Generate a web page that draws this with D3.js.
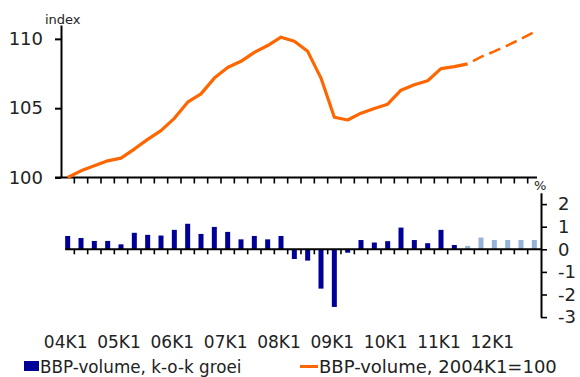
<!DOCTYPE html>
<html>
<head>
<meta charset="utf-8">
<script src="https://cdn.jsdelivr.net/npm/d3@7"></script>
<style>
  html, body { margin: 0; padding: 0; background: #fff; }
  svg { display: block; font-family: "DejaVu Sans", Verdana, sans-serif; }
</style>
</head>
<body>
<svg id="chart" width="580" height="377"></svg>
<script>
// ---- data ----
const quarters = [
  "04K1","04K2","04K3","04K4","05K1","05K2","05K3","05K4",
  "06K1","06K2","06K3","06K4","07K1","07K2","07K3","07K4",
  "08K1","08K2","08K3","08K4","09K1","09K2","09K3","09K4",
  "10K1","10K2","10K3","10K4","11K1","11K2","11K3","11K4",
  "12K1","12K2","12K3","12K4"
];
const xLabels = ["04K1","05K1","06K1","07K1","08K1","09K1","10K1","11K1","12K1"];
// BBP-volume, k-o-k groei (%)
const growth = [
  0.59, 0.50, 0.37, 0.37, 0.22, 0.73, 0.64, 0.61,
  0.86, 1.13, 0.68, 0.99, 0.77, 0.44, 0.59, 0.44,
  0.59, -0.43, -0.50, -1.74, -2.55, -0.15, 0.41, 0.30,
  0.36, 0.96, 0.41, 0.27, 0.86, 0.19, 0.15, 0.52,
  0.41, 0.41, 0.41, 0.41
];
// BBP-volume, 2004K1=100
const indexValues = [
  100.0, 100.48, 100.84, 101.2, 101.4, 102.05, 102.75, 103.38,
  104.27, 105.43, 106.03, 107.17, 107.94, 108.38, 109.03, 109.52,
  110.12, 109.83, 109.1, 107.17, 104.35, 104.15, 104.64, 104.97,
  105.29, 106.3, 106.69, 106.98, 107.85, 108.0, 108.2, 108.7,
  109.1, 109.53, 110.0, 110.5
];
const forecastStartLine = "11K3"; // line dashed from here
const forecastStartBar = "11K3";  // bars light from here
const indexTicks = [100, 105, 110];
const growthTicks = [-3, -2, -1, 0, 1, 2];
const legendLabels = ["BBP-volume, k-o-k groei", "BBP-volume, 2004K1=100"];

// ---- layout ----
const svg = d3.select("#chart");
const orange = "#FF6600", dark = "#000099", light = "#95B3D7";
const X0 = 61, X1 = 541;

const slot = d3.scaleBand().domain(quarters).range([X0, X1]).padding(0);
const xb = d3.scaleBand().domain(quarters).range([X0, X1])
  .paddingInner(0.625).paddingOuter(0.3125);
const cx = q => slot(q) + slot.bandwidth() / 2;

const yTop = d3.scaleLinear().domain([100, 111]).range([177.5, 25]);
const yBot = d3.scaleLinear().domain([-3, 2.5]).range([317.1, 192.8]);

// ---- top panel ----
const gTop = svg.append("g");
const axL = d3.axisLeft(yTop).tickValues(indexTicks).tickSize(6).tickSizeOuter(0).tickPadding(12);
const gl = gTop.append("g").attr("transform", `translate(${X0},0)`).call(axL);
gl.select(".domain").attr("stroke", "#000").attr("stroke-width", 2);
gl.selectAll(".tick line").attr("stroke", "#000").attr("stroke-width", 2);
gl.selectAll(".tick text").attr("font-size", 18).attr("fill", "#222").attr("font-family", "DejaVu Sans");

gTop.append("text").attr("x", 45).attr("y", 24).attr("font-size", 13).attr("fill", "#222").text("index");

gTop.append("line").attr("x1", X0 - 6).attr("x2", X1 - 4)
  .attr("y1", yTop(100)).attr("y2", yTop(100)).attr("stroke", "#000").attr("stroke-width", 2);
gTop.selectAll("line.xt").data(quarters.slice(1)).join("line").attr("class", "xt")
  .attr("x1", d => slot(d)).attr("x2", d => slot(d))
  .attr("y1", yTop(100)).attr("y2", yTop(100) + 6).attr("stroke", "#000").attr("stroke-width", 1.6);

const fi = quarters.indexOf(forecastStartLine);
const pts = quarters.map((q, i) => [cx(q), yTop(indexValues[i])]);
const line = d3.line();
gTop.append("path").attr("d", line(pts.slice(0, fi + 1)))
  .attr("fill", "none").attr("stroke", orange).attr("stroke-width", 3.2).attr("stroke-linejoin", "round");
gTop.append("path").attr("d", line(pts.slice(fi)))
  .attr("fill", "none").attr("stroke", orange).attr("stroke-width", 2.6)
  .attr("stroke-dasharray", "12,6").attr("stroke-dashoffset", -6);

// ---- bottom panel ----
const gBot = svg.append("g");
const bi = quarters.indexOf(forecastStartBar);
gBot.selectAll("rect.bar").data(quarters).join("rect").attr("class", "bar")
  .attr("x", d => xb(d))
  .attr("width", xb.bandwidth())
  .attr("y", (d, i) => yBot(Math.max(0, growth[i])))
  .attr("height", (d, i) => Math.abs(yBot(growth[i]) - yBot(0)))
  .attr("fill", (d, i) => i >= bi ? light : dark);

gBot.append("line").attr("x1", xb(quarters[0])).attr("x2", X1)
  .attr("y1", yBot(0)).attr("y2", yBot(0)).attr("stroke", "#000").attr("stroke-width", 2);
gBot.selectAll("line.xt").data(quarters.slice(1)).join("line").attr("class", "xt")
  .attr("x1", d => slot(d)).attr("x2", d => slot(d))
  .attr("y1", yBot(0)).attr("y2", yBot(0) + 5).attr("stroke", "#000").attr("stroke-width", 1.6);

const axR = d3.axisRight(yBot).tickValues(growthTicks).tickSize(6).tickSizeOuter(0).tickPadding(11)
  .tickFormat(d => String(d));
const gr = gBot.append("g").attr("transform", `translate(${X1},0)`).call(axR);
gr.select(".domain").attr("stroke", "#000").attr("stroke-width", 2);
gr.selectAll(".tick line").attr("stroke", "#000").attr("stroke-width", 1.6);
gr.selectAll(".tick text").attr("font-size", 18).attr("fill", "#222").attr("font-family", "DejaVu Sans");

gBot.append("text").attr("x", 534).attr("y", 190).attr("font-size", 13).attr("fill", "#222").text("%");

// ---- category labels ----
svg.selectAll("text.xl").data(xLabels).join("text").attr("class", "xl")
  .attr("x", d => cx(d) - 2).attr("y", 348)
  .attr("text-anchor", "middle").attr("font-size", 17).attr("fill", "#222").text(d => d);

// ---- legend ----
const lg = svg.append("g");
lg.append("rect").attr("x", 24).attr("y", 361).attr("width", 15).attr("height", 10).attr("fill", dark);
lg.append("text").attr("x", 40).attr("y", 373).attr("font-size", 16.8).attr("fill", "#222").text(legendLabels[0]);
lg.append("line").attr("x1", 300).attr("x2", 318).attr("y1", 366.5).attr("y2", 366.5)
  .attr("stroke", orange).attr("stroke-width", 3);
lg.append("text").attr("x", 319).attr("y", 373).attr("font-size", 18).attr("fill", "#222").text(legendLabels[1]);
</script>
</body>
</html>
